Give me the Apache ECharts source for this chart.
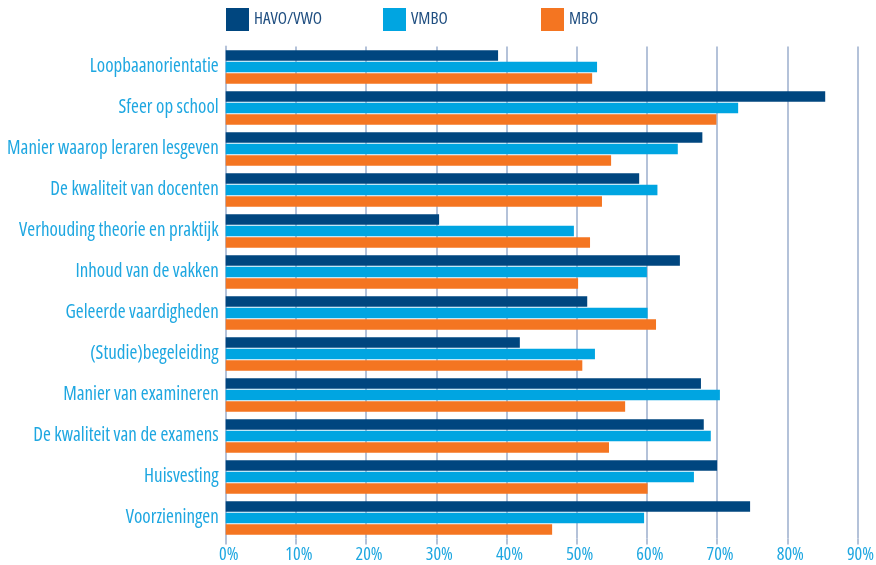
<!DOCTYPE html>
<html><head><meta charset="utf-8">
<script src="https://cdn.jsdelivr.net/npm/echarts@6/dist/echarts.min.js"></script>
<style>html,body{margin:0;padding:0;background:#fff}#c{width:876px;height:565px}</style>
</head><body><div id="c"></div>
<script>
const categories = ["Loopbaanorientatie","Sfeer op school","Manier waarop leraren lesgeven","De kwaliteit van docenten","Verhouding theorie en praktijk","Inhoud van de vakken","Geleerde vaardigheden","(Studie)begeleiding","Manier van examineren","De kwaliteit van de examens","Huisvesting","Voorzieningen"];
const havo = [38.8, 85.4, 67.9, 58.9, 30.4, 64.7, 51.5, 41.9, 67.7, 68.1, 70.0, 74.7];
const vmbo = [52.9, 73.0, 64.4, 61.5, 49.6, 60.0, 60.1, 52.6, 70.4, 69.1, 66.7, 59.6];
const mbo  = [52.2, 69.9, 54.9, 53.6, 51.9, 50.2, 61.3, 50.8, 56.9, 54.6, 60.1, 46.5];
const xTicks = [0,10,20,30,40,50,60,70,80,90];
const seriesNames = ["HAVO/VWO","VMBO","MBO"];
const colors = ["#00467f","#00a5e1","#f47521"];
const font = "'Open Sans'";
const cond = "condensed";
const legendLefts = [226, 383, 541];
const chart = echarts.init(document.getElementById('c'));
chart.setOption({
  animation:false,
  color: colors,
  legend: seriesNames.map((n,i)=>({
    data:[n], top:8, left:legendLefts[i], padding:0, itemWidth:23, itemHeight:23, icon:'rect',
    itemStyle:{color:colors[i]},
    textStyle:{fontFamily:font, fontWeight:cond, fontSize:17, color:'#1f4e80'}
  })),
  grid:{left:225.7, right:18.5, top:46.5, bottom:26.5, containLabel:false, outerBoundsMode:'none'},
  xAxis:{
    type:'value', min:xTicks[0], max:xTicks[xTicks.length-1], interval:10,
    axisLabel:{formatter:'{value}%', fontFamily:font, fontWeight:cond, fontSize:18, color:'#1ea7e1', margin:7, padding:[0,0,0,6]},
    splitLine:{show:true, lineStyle:{color:'#b4c2d9', width:2}},
    axisLine:{show:false},
    axisTick:{show:true, length:6, lineStyle:{color:'#b4c2d9', width:2}}
  },
  yAxis:{
    type:'category', data:categories, inverse:true,
    axisLabel:{fontFamily:font, fontWeight:cond, fontSize:19, color:'#1ea7e1', margin:7},
    axisLine:{show:true, lineStyle:{color:'#b4c2d9', width:2}},
    axisTick:{show:false}
  },
  series:[
    {name:seriesNames[0], type:'bar', data:havo, barWidth:10.5, barGap:'10%'},
    {name:seriesNames[1], type:'bar', data:vmbo, barWidth:10.5, barGap:'10%'},
    {name:seriesNames[2], type:'bar', data:mbo, barWidth:10.5, barGap:'10%'}
  ]
});
</script></body></html>
